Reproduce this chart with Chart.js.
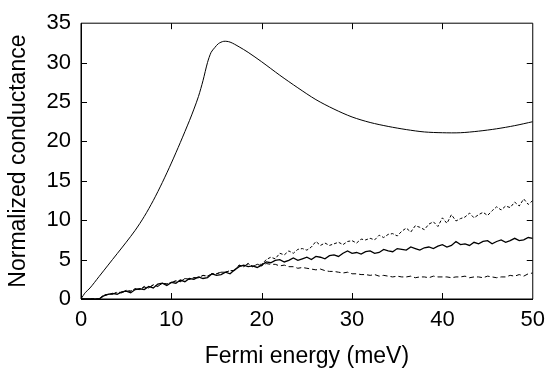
<!DOCTYPE html>
<html>
<head>
<meta charset="utf-8">
<script src="https://cdn.jsdelivr.net/npm/chart.js@4.4.1/dist/chart.umd.min.js"></script>
<style>
  html, body { margin: 0; padding: 0; background: #fff; }
  #wrap { width: 553px; height: 372px; position: relative; }
</style>
</head>
<body>
<div id="wrap"><canvas id="c" width="553" height="372"></canvas></div>
<script>
// ---- data ----
const xTicks = [0, 10, 20, 30, 40, 50];
const yTicks = [0, 5, 10, 15, 20, 25, 30, 35];

const mainE = [0, 0.25, 0.5, 1, 2, 3, 4, 5, 6, 7, 8, 9, 10, 11, 12, 12.5, 13, 13.5, 14, 14.4, 14.8, 15.2, 15.8, 16.5, 17.5, 18.5, 20, 22, 24, 26, 28, 30, 32, 34, 36, 38, 40, 42, 44, 46, 48, 50];
const mainG = [0, 0.45, 0.85, 1.4, 2.85, 4.3, 5.75, 7.2, 8.72, 10.47, 12.5, 14.78, 17.25, 19.88, 22.63, 24.1, 25.7, 27.7, 30.0, 31.3, 31.9, 32.4, 32.7, 32.6, 32.0, 31.3, 30.1, 28.4, 26.8, 25.3, 24.1, 23.1, 22.4, 21.9, 21.5, 21.2, 21.1, 21.1, 21.3, 21.6, 22.0, 22.5];

const noisyE = [0, 0.5, 1, 1.5, 2, 2.5, 3, 3.5, 4, 4.5, 5, 5.5, 6, 6.5, 7, 7.5, 8, 8.5, 9, 9.5,
  10, 10.5, 11, 11.5, 12, 12.5, 13, 13.5, 14, 14.5, 15, 15.5, 16, 16.5, 17, 17.5, 18, 18.5, 19, 19.5,
  20, 20.5, 21, 21.5, 22, 22.5, 23, 23.5, 24, 24.5, 25, 25.5, 26, 26.5, 27, 27.5, 28, 28.5, 29, 29.5,
  30, 30.5, 31, 31.5, 32, 32.5, 33, 33.5, 34, 34.5, 35, 35.5, 36, 36.5, 37, 37.5, 38, 38.5, 39, 39.5,
  40, 40.5, 41, 41.5, 42, 42.5, 43, 43.5, 44, 44.5, 45, 45.5, 46, 46.5, 47, 47.5, 48, 48.5, 49, 49.5, 50];

const solidG = [0, 0, 0, 0, 0, 0.4, 0.6, 0.7, 0.6, 0.9, 1.0, 0.8, 1.2, 1.3, 1.2, 1.6, 1.4, 1.9, 2.0, 1.7,
  2.1, 2.0, 2.4, 2.2, 2.6, 2.5, 2.8, 2.6, 2.7, 3.2, 3.0, 3.1, 3.4, 3.2, 3.7, 4.1, 4.3, 4.1, 4.2, 4.0,
  4.3, 4.7, 4.6, 4.9, 5.0, 4.7, 4.9, 5.2, 4.9, 5.1, 5.3, 5.0, 5.4, 5.3, 5.1, 5.5, 5.6, 5.4, 5.8, 6.1,
  5.8, 5.9, 5.7, 6.0, 6.1, 5.8, 5.9, 6.3, 6.1, 6.0, 6.4, 6.3, 6.2, 6.6, 6.4, 6.2, 6.5, 6.6, 6.4, 6.7,
  6.9, 6.6, 6.8, 7.3, 6.9, 7.0, 6.8, 7.2, 7.0, 7.3, 7.4, 7.0, 7.3, 7.5, 7.2, 7.4, 7.7, 7.4, 7.5, 7.8, 7.7];

const upperG = [0, 0, 0, 0, 0, 0.5, 0.6, 0.6, 0.8, 0.8, 1.1, 1.0, 1.3, 1.2, 1.6, 1.4, 1.8, 1.6, 2.0, 1.9,
  2.1, 2.3, 2.2, 2.6, 2.5, 2.7, 2.7, 3.0, 2.9, 3.2, 3.2, 3.4, 3.4, 3.6, 3.6, 4.3, 4.1, 4.5, 4.1, 4.4,
  4.4, 5.0, 5.3, 5.1, 5.8, 5.6, 6.1, 5.8, 6.3, 6.4, 6.2, 6.6, 7.3, 6.8, 7.1, 6.8, 7.0, 7.2, 6.9, 7.3,
  7.4, 7.1, 7.6, 7.5, 7.7, 7.5, 8.1, 7.8, 8.2, 8.3, 8.0, 8.6, 9.0, 8.5, 9.3, 9.1, 8.8, 9.5, 9.8, 9.2,
  10.3, 9.6, 10.7, 9.9, 10.2, 10.4, 10.9, 10.3, 10.7, 11.0, 10.6, 11.2, 11.7, 11.3, 11.8, 11.6, 12.3, 11.8, 12.7, 12.0, 12.5];

const lowerG = [0, 0, 0, 0, 0, 0.4, 0.6, 0.6, 0.9, 0.8, 1.0, 1.0, 1.3, 1.2, 1.5, 1.4, 1.8, 1.6, 2.0, 1.9,
  2.1, 2.3, 2.2, 2.6, 2.5, 2.7, 2.7, 3.0, 2.9, 3.2, 3.2, 3.4, 3.4, 3.6, 3.6, 4.3, 4.1, 4.5, 4.1, 4.4,
  4.2, 4.5, 4.4, 4.4, 4.2, 4.3, 4.1, 4.1, 3.9, 4.0, 3.9, 3.8, 3.7, 3.8, 3.6, 3.5, 3.5, 3.4, 3.3, 3.4,
  3.2, 3.2, 3.1, 3.1, 3.0, 3.1, 2.9, 3.0, 2.9, 2.8, 2.9, 2.8, 2.8, 2.9, 2.7, 2.8, 2.8, 2.7, 2.9, 2.8,
  2.8, 2.8, 2.7, 2.8, 2.8, 2.9, 2.7, 2.8, 2.8, 2.7, 2.9, 2.8, 2.7, 2.8, 2.8, 3.0, 2.9, 3.1, 2.9, 3.2, 3.3];

// ---- build ----
const pts = (xs, ys) => xs.map((x, i) => ({ x: x, y: ys[i] }));
const FONT = '"Liberation Sans", Arial, Helvetica, sans-serif';

const frameTicks = {
  id: 'frameTicks',
  afterDatasetsDraw(chart) {
    const { ctx, chartArea: a, scales: { x, y } } = chart;
    ctx.save();
    ctx.strokeStyle = '#000';
    ctx.lineWidth = 1;
    ctx.beginPath();
    ctx.rect(a.left, a.top, a.right - a.left, a.bottom - a.top);
    ctx.stroke();
    const L = 6;
    ctx.beginPath();
    xTicks.forEach(v => {
      const px = Math.round(x.getPixelForValue(v)) + 0.5;
      if (v !== xTicks[0] && v !== xTicks[xTicks.length - 1]) {
        ctx.moveTo(px, a.bottom); ctx.lineTo(px, a.bottom - L);
        ctx.moveTo(px, a.top); ctx.lineTo(px, a.top + L);
      }
    });
    yTicks.forEach(v => {
      const py = Math.round(y.getPixelForValue(v)) + 0.5;
      if (v !== yTicks[0] && v !== yTicks[yTicks.length - 1]) {
        ctx.moveTo(a.left, py); ctx.lineTo(a.left + L, py);
        ctx.moveTo(a.right, py); ctx.lineTo(a.right - L, py);
      }
    });
    ctx.stroke();
    ctx.restore();
  }
};

new Chart(document.getElementById('c'), {
  type: 'line',
  data: {
    datasets: [
      { data: pts(mainE, mainG), borderColor: '#000', borderWidth: 1, pointRadius: 0, tension: 0.3, fill: false },
      { data: pts(noisyE, upperG), borderColor: '#000', borderWidth: 1, borderDash: [3, 2], pointRadius: 0, tension: 0, fill: false },
      { data: pts(noisyE, lowerG), borderColor: '#000', borderWidth: 1, borderDash: [5, 3], pointRadius: 0, tension: 0, fill: false },
      { data: pts(noisyE, solidG), borderColor: '#000', borderWidth: 1.3, pointRadius: 0, tension: 0, fill: false }
    ]
  },
  options: {
    responsive: false,
    animation: false,
    events: [],
    layout: { padding: { left: 0, right: 12, top: 19, bottom: 0 } },
    plugins: { legend: { display: false }, tooltip: { enabled: false } },
    scales: {
      x: {
        type: 'linear', min: 0, max: 50,
        afterBuildTicks: s => { s.ticks = xTicks.map(v => ({ value: v })); },
        afterFit: s => { s.height = 73; },
        grid: { display: true, drawOnChartArea: false, drawTicks: false },
        border: { display: true, color: '#000', width: 1 },
        ticks: { color: '#000', padding: 8, maxRotation: 0, font: { family: FONT, size: 22 } },
        title: { display: true, text: 'Fermi energy (meV)', color: '#000', padding: { top: 0, bottom: 2 }, font: { family: FONT, size: 23 } }
      },
      y: {
        type: 'linear', min: 0, max: 35,
        afterBuildTicks: s => { s.ticks = yTicks.map(v => ({ value: v })); },
        afterFit: s => { s.width = 81; },
        grid: { display: true, drawOnChartArea: false, drawTicks: false },
        border: { display: true, color: '#000', width: 1 },
        ticks: { color: '#000', padding: 10, font: { family: FONT, size: 22 } },
        title: { display: true, text: 'Normalized conductance', color: '#000', padding: { top: 5, bottom: 0 }, font: { family: FONT, size: 23 } }
      }
    }
  },
  plugins: [frameTicks]
});
</script>
</body>
</html>
